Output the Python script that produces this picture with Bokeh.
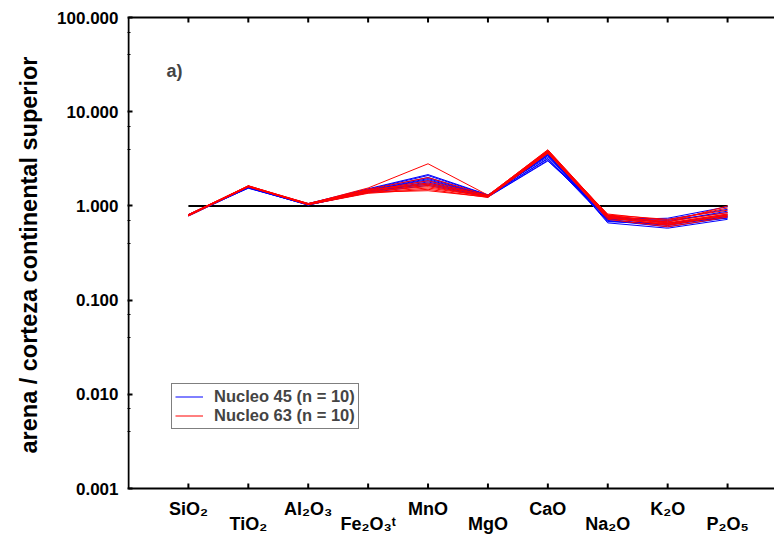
import math
from bokeh.plotting import figure
from bokeh.models import Range1d, FixedTicker, Label, Legend, LegendItem, Title
from bokeh.embed import file_html
from bokeh.resources import INLINE
from bokeh.core.properties import value

# ---------------- data ----------------
oxides = ["SiO2", "TiO2", "Al2O3", "Fe2O3t", "MnO", "MgO", "CaO", "Na2O", "K2O", "P2O5"]
oxide_labels = ["SiO\u2082", "TiO\u2082", "Al\u2082O\u2083", "Fe\u2082O\u2083\u1d57", "MnO",
                "MgO", "CaO", "Na\u2082O", "K\u2082O", "P\u2082O\u2085"]

nucleo45 = [
    [0.80, 1.58, 1.04, 1.45, 1.95, 1.28, 3.55, 0.72, 0.62, 0.78],
    [0.79, 1.55, 1.03, 1.40, 1.80, 1.26, 3.20, 0.70, 0.60, 0.75],
    [0.81, 1.60, 1.05, 1.50, 2.10, 1.30, 3.40, 0.68, 0.65, 0.80],
    [0.80, 1.57, 1.02, 1.42, 1.70, 1.25, 3.05, 0.75, 0.72, 0.92],
    [0.78, 1.56, 1.04, 1.48, 2.00, 1.29, 3.60, 0.66, 0.58, 0.72],
    [0.80, 1.59, 1.06, 1.52, 2.15, 1.31, 3.30, 0.74, 0.70, 0.85],
    [0.81, 1.54, 1.03, 1.38, 1.65, 1.24, 3.00, 0.78, 0.66, 0.74],
    [0.79, 1.61, 1.05, 1.46, 1.90, 1.27, 3.45, 0.71, 0.74, 0.98],
    [0.80, 1.58, 1.04, 1.44, 1.85, 1.28, 3.15, 0.69, 0.63, 0.77],
    [0.80, 1.56, 1.02, 1.41, 1.75, 1.26, 3.50, 0.73, 0.68, 0.88],
]
nucleo63 = [
    [0.80, 1.62, 1.05, 1.55, 2.80, 1.30, 3.90, 0.80, 0.66, 0.82],
    [0.79, 1.60, 1.04, 1.42, 1.60, 1.25, 3.80, 0.76, 0.62, 0.80],
    [0.80, 1.63, 1.06, 1.48, 1.75, 1.28, 3.70, 0.82, 0.70, 0.95],
    [0.81, 1.61, 1.03, 1.36, 1.50, 1.23, 3.60, 0.74, 0.64, 0.78],
    [0.78, 1.59, 1.05, 1.45, 1.85, 1.27, 3.85, 0.78, 0.68, 0.85],
    [0.80, 1.64, 1.04, 1.40, 1.45, 1.24, 3.75, 0.72, 0.60, 0.76],
    [0.79, 1.60, 1.05, 1.50, 2.00, 1.29, 3.95, 0.80, 0.72, 0.90],
    [0.80, 1.62, 1.03, 1.38, 1.55, 1.26, 3.65, 0.77, 0.65, 0.82],
    [0.81, 1.63, 1.06, 1.47, 1.70, 1.28, 3.80, 0.75, 0.63, 0.80],
    [0.80, 1.61, 1.04, 1.43, 1.65, 1.25, 3.70, 0.79, 0.67, 1.00],
]
reference_level = 1.0

y_min, y_max = 0.001, 100.0
y_ticks = [0.001, 0.01, 0.1, 1, 10, 100]
y_tick_labels = ["0.001", "0.010", "0.100", "1.000", "10.000", "100.000"]
y_minor_ticks = [0.007, 0.004, 0.07, 0.04, 0.7, 0.4, 7, 4, 70, 40]

legend_labels = ["Nucleo 45 (n = 10)", "Nucleo 63 (n = 10)"]
y_label = "arena / corteza continental superior"
panel_tag = "a)"

# ---------------- layout ----------------
W, H = 774, 540
AX_L, AX_T, AX_B = 127, 17, 488          # pixel positions of the drawn box
FRAME_L = 126
PX_PER_CAT = 60.0
x_box_left = -1.0
x_left = x_box_left - (AX_L - FRAME_L) / PX_PER_CAT
x_right = x_left + (W - FRAME_L) / PX_PER_CAT
px_per_dec = (AX_B - AX_T) / math.log10(y_max / y_min)

def y_at_px(py):
    return 10 ** (math.log10(y_max) - (py - AX_T) / px_per_dec)

FONT = "Liberation Sans"

p = figure(width=W, height=H, y_axis_type="log",
           x_range=Range1d(x_left, x_right), y_range=Range1d(y_at_px(H), y_at_px(0)),
           output_backend="svg", toolbar_location=None, x_axis_location=None,
           min_border=0, min_border_left=FRAME_L)
p.outline_line_color = None
p.xgrid.visible = False
p.ygrid.visible = False
p.background_fill_color = "white"
p.border_fill_color = "white"

xidx = list(range(len(oxides)))

# left axis (ticks + labels), its line is drawn as the box below
ya = p.yaxis[0]
ya.ticker = FixedTicker(ticks=y_ticks, minor_ticks=y_minor_ticks)
ya.major_label_overrides = {t: l for t, l in zip(y_ticks, y_tick_labels)}
ya.major_label_text_font = FONT
ya.major_label_text_font_style = "bold"
ya.major_label_text_font_size = "17px"
ya.major_label_text_color = "black"
ya.major_label_standoff = 9
ya.major_tick_in = 5
ya.major_tick_out = 0
ya.minor_tick_in = 3
ya.minor_tick_out = 0
ya.axis_line_color = None
ya.major_tick_line_width = 2

# y axis title, centred on the box rather than on the whole canvas
ytitle = Title(text=y_label, align="right", offset=56, vertical_align="bottom",
               standoff=26, text_font=FONT, text_font_style="bold",
               text_font_size="23.5px", text_color="black")
p.add_layout(ytitle, "left")

# box: left, top and bottom lines (no right line, as in the reference)
p.segment(x0=[x_box_left, x_box_left, x_box_left], y0=[y_min, y_max, y_min],
          x1=[x_box_left, x_right, x_right], y1=[y_max, y_max, y_min],
          line_color="black", line_width=2)
# inward category ticks on top and bottom
p.segment(x0=xidx, y0=[y_min] * len(xidx), x1=xidx, y1=[y_at_px(AX_B - 5)] * len(xidx),
          line_color="black", line_width=2)
p.segment(x0=xidx, y0=[y_max] * len(xidx), x1=xidx, y1=[y_at_px(AX_T + 5)] * len(xidx),
          line_color="black", line_width=2)

# reference line at 1
p.line([xidx[0], xidx[-1]], [reference_level, reference_level], line_color="black", line_width=2)

rb = p.multi_line(xs=[xidx] * len(nucleo45), ys=nucleo45, line_color="#0000ff", line_width=1)
rr = p.multi_line(xs=[xidx] * len(nucleo63), ys=nucleo63, line_color="#ff0000", line_width=1)

legend = Legend(items=[LegendItem(label=legend_labels[0], renderers=[rb]),
                       LegendItem(label=legend_labels[1], renderers=[rr])],
                location=(170 - FRAME_L, H - 429))
legend.label_text_font = FONT
legend.label_text_font_style = "bold"
legend.label_text_font_size = "16.5px"
legend.label_height = 17
legend.glyph_height = 17
legend.glyph_width = 28
legend.label_standoff = 11
legend.spacing = 0
legend.padding = 3
legend.margin = 0
legend.border_line_color = "black"
legend.border_line_width = 1
legend.background_fill_alpha = 1
p.add_layout(legend)

# category labels, alternating rows (drawn inside the extended frame)
lab_y = [y_at_px(508) if i % 2 == 0 else y_at_px(523) for i in xidx]
p.text(x=xidx, y=lab_y, text=oxide_labels,
       text_align="center", text_baseline="middle",
       text_font=value(FONT), text_font_style="bold",
       text_font_size="18px", text_color="black")

p.add_layout(Label(x=x_box_left + (173 - AX_L) / PX_PER_CAT, y=y_at_px(70), text=panel_tag,
                   text_align="center", text_baseline="middle",
                   text_font=FONT, text_font_style="bold", text_font_size="18px"))

open("out.html", "w").write(file_html(p, INLINE))
